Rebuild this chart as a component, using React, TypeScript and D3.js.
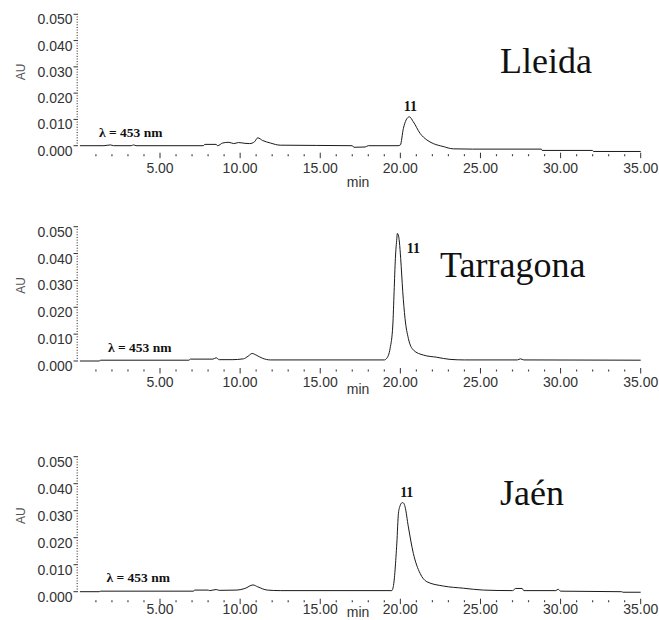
import React from "react";
import * as d3 from "d3";

// ---- data (time in min, absorbance in AU) ----
const lleidaTrace: [number, number][] = [
  [0, 0], [1.5, 0], [1.9, 0.0003], [2.1, 0], [3.2, 0], [3.35, 0.0003], [3.5, 0],
  [7.7, 0], [7.8, 0.0005], [8.5, 0.0005], [8.6, 0], [8.9, 0.001], [9.3, 0.0013],
  [9.6, 0.0008], [9.9, 0.0012], [10.3, 0.0009], [10.6, 0.0008], [10.9, 0.0015],
  [11.1, 0.003], [11.4, 0.002], [11.9, 0.001], [12.5, 0.0002], [17.0, 0],
  [17.1, -0.0006], [17.8, -0.0005], [18.0, 0], [19.85, 0], [20.0, 0.0003],
  [20.19, 0.0066], [20.36, 0.0098], [20.56, 0.011], [20.81, 0.0091], [21.23, 0.0047],
  [21.65, 0.0022], [22.06, 0.0008], [22.67, -0.0003], [23.3, -0.0012], [24.5, -0.0013],
  [28.8, -0.0013], [28.85, -0.0018], [32.0, -0.0018], [32.05, -0.0022], [35, -0.0022],
];

const tarragonaTrace: [number, number][] = [
  [0, 0], [1.2, 0], [1.3, 0.0003], [6.8, 0.0003], [6.9, 0.0007], [8.3, 0.0007],
  [8.5, 0.0012], [8.7, 0.0005], [9.5, 0.0005], [10.2, 0.0008], [10.5, 0.0018],
  [10.75, 0.0028], [11.0, 0.0022], [11.4, 0.001], [11.9, 0.0004], [19.0, 0.0004],
  [19.15, 0.001], [19.36, 0.0047], [19.53, 0.0134], [19.61, 0.0258], [19.69, 0.0382],
  [19.78, 0.0456], [19.81, 0.0475], [19.87, 0.047], [19.94, 0.0443], [20.02, 0.0382],
  [20.15, 0.0258], [20.29, 0.0159], [20.5, 0.0084], [20.81, 0.0041], [21.44, 0.0022],
  [22.27, 0.0014], [23.1, 0.0006], [24, 0.0004], [27.3, 0.0004], [27.5, 0.0008],
  [27.7, 0.0004], [35, 0.0003],
];

const jaenTrace: [number, number][] = [
  [0, 0], [1.2, 0], [1.3, 0.0002], [7.1, 0.0002], [7.15, 0.0006], [8.0, 0.0006],
  [8.1, 0.0004], [8.5, 0.0008], [8.7, 0.0005], [9.8, 0.0006], [10.3, 0.0012],
  [10.8, 0.0025], [11.1, 0.0018], [11.7, 0.0006], [12.5, 0.0004], [19.46, 0.0004],
  [19.56, 0.0019], [19.78, 0.018], [19.88, 0.029], [19.98, 0.0318], [20.07, 0.0328],
  [20.15, 0.033], [20.22, 0.0327], [20.29, 0.0315], [20.5, 0.024], [20.81, 0.0142],
  [21.23, 0.0068], [21.65, 0.0037], [22.68, 0.0021], [23.93, 0.0013], [25.18, 0.0006],
  [27.0, 0.0004], [27.2, 0.0012], [27.6, 0.0012], [27.7, 0.0004], [29.7, 0.0004],
  [29.85, 0.0009], [30.0, 0.0002], [33.8, 0], [33.9, -0.0002], [35, -0.0002],
];

const regionNames = ["Lleida", "Tarragona", "Jaén"];
const peakLabel = "11";
const wavelengthLabel = "λ = 453 nm";
const yTickValues = [0, 0.01, 0.02, 0.03, 0.04, 0.05];
const yTickLabels = ["0.000", "0.010", "0.020", "0.030", "0.040", "0.050"];
const xTickValues = [5, 10, 15, 20, 25, 30, 35];
const xTickLabels = ["5.00", "10.00", "15.00", "20.00", "25.00", "30.00", "35.00"];
const yAxisLabel = "AU";
const xAxisLabel = "min";

// ---- layout ----
const W = 659;
const H = 620;
const xScale = d3.scaleLinear().domain([0, 35]).range([79.9, 640.7]);

const panels = [
  { trace: lleidaTrace, y0: 145.7, y50: 14.3, title: { x: 500, y: 73 }, peak: { t: 20.56, dx: 1, y: 111 }, lambda: { x: 99, y: 137 }, labelDy: 27.5, minDy: 41 },
  { trace: tarragonaTrace, y0: 361, y50: 226.7, title: { x: 440, y: 277 }, peak: { t: 19.81, dx: 16, y: 253 }, lambda: { x: 108, y: 351.5 }, labelDy: 25.8, minDy: 32.5 },
  { trace: jaenTrace, y0: 591.7, y50: 456.7, title: { x: 500, y: 505 }, peak: { t: 20.15, dx: 4, y: 497 }, lambda: { x: 106.5, y: 581.5 }, labelDy: 22.5, minDy: 25 },
];

const sans = "'Liberation Sans', Arial, sans-serif";
const serif = "'Liberation Serif', 'Times New Roman', serif";

function Panel({ p, idx }: { p: typeof panels[number]; idx: number }) {
  const yScale = d3.scaleLinear().domain([0, 0.05]).range([p.y0, p.y50]);
  const line = d3
    .line<[number, number]>()
    .x((d) => xScale(d[0]))
    .y((d) => yScale(d[1]))
    .curve(d3.curveMonotoneX);
  const minor: number[] = d3.range(0, 51).filter((i) => i % 10 !== 0).map((i) => i * 0.001);
  const xMinor = d3.range(1, 35).filter((t) => t % 5 !== 0);
  const y0 = yScale(0);
  return (
    <g>
      {/* y axis */}
      {yTickValues.map((v, i) => (
        <g key={"yt" + i}>
          <line x1={73.5} x2={78} y1={yScale(v)} y2={yScale(v)} stroke="#333" strokeWidth={1} />
          <text x={72.5} y={yScale(v) + 10} textAnchor="end" fontFamily={sans} fontSize={14} fill="#333">
            {yTickLabels[i]}
          </text>
        </g>
      ))}
      {minor.map((v, i) => (
        <rect key={"ym" + i} x={76.5} y={yScale(v) - 0.5} width={1.5} height={1} fill="#666" />
      ))}
      <text
        transform={`translate(25,${yScale(0.03) + 5}) rotate(-90)`}
        textAnchor="middle"
        fontFamily={sans}
        fontSize={12}
        fill="#555"
      >
        {yAxisLabel}
      </text>
      {/* x axis */}
      {xMinor.map((t) => (
        <line key={"xm" + t} x1={xScale(t)} x2={xScale(t)} y1={y0 + 8.5} y2={y0 + 10.5} stroke="#444" strokeWidth={1.2} />
      ))}
      {xTickValues.map((t, i) => (
        <g key={"xt" + t}>
          <line x1={xScale(t)} x2={xScale(t)} y1={y0 + 7} y2={y0 + 12.5} stroke="#333" strokeWidth={1} />
          <text x={xScale(t)} y={y0 + p.labelDy} textAnchor="middle" fontFamily={sans} fontSize={14} fill="#333">
            {xTickLabels[i]}
          </text>
        </g>
      ))}
      <text x={358} y={y0 + p.minDy} textAnchor="middle" fontFamily={sans} fontSize={14} fill="#333">
        {xAxisLabel}
      </text>
      {/* trace */}
      <path d={line(p.trace) || ""} fill="none" stroke="#1a1a1a" strokeWidth={1} />
      {/* annotations */}
      <text x={xScale(p.peak.t) + p.peak.dx} y={p.peak.y} textAnchor="middle" fontFamily={serif} fontWeight="bold" fontSize={14} fill="#111">
        {peakLabel}
      </text>
      <text x={p.lambda.x} y={p.lambda.y} fontFamily={serif} fontWeight="bold" fontSize={13.5} fill="#111">
        {wavelengthLabel}
      </text>
      <text x={p.title.x} y={p.title.y} fontFamily={serif} fontSize={36} fill="#111">
        {regionNames[idx]}
      </text>
    </g>
  );
}

export default function App() {
  return (
    <svg width={W} height={H} style={{ position: "absolute", left: 0, top: 0, background: "#fff" }}>
      <rect width={W} height={H} fill="#fff" />
      {panels.map((p, i) => (
        <Panel key={i} p={p} idx={i} />
      ))}
    </svg>
  );
}
